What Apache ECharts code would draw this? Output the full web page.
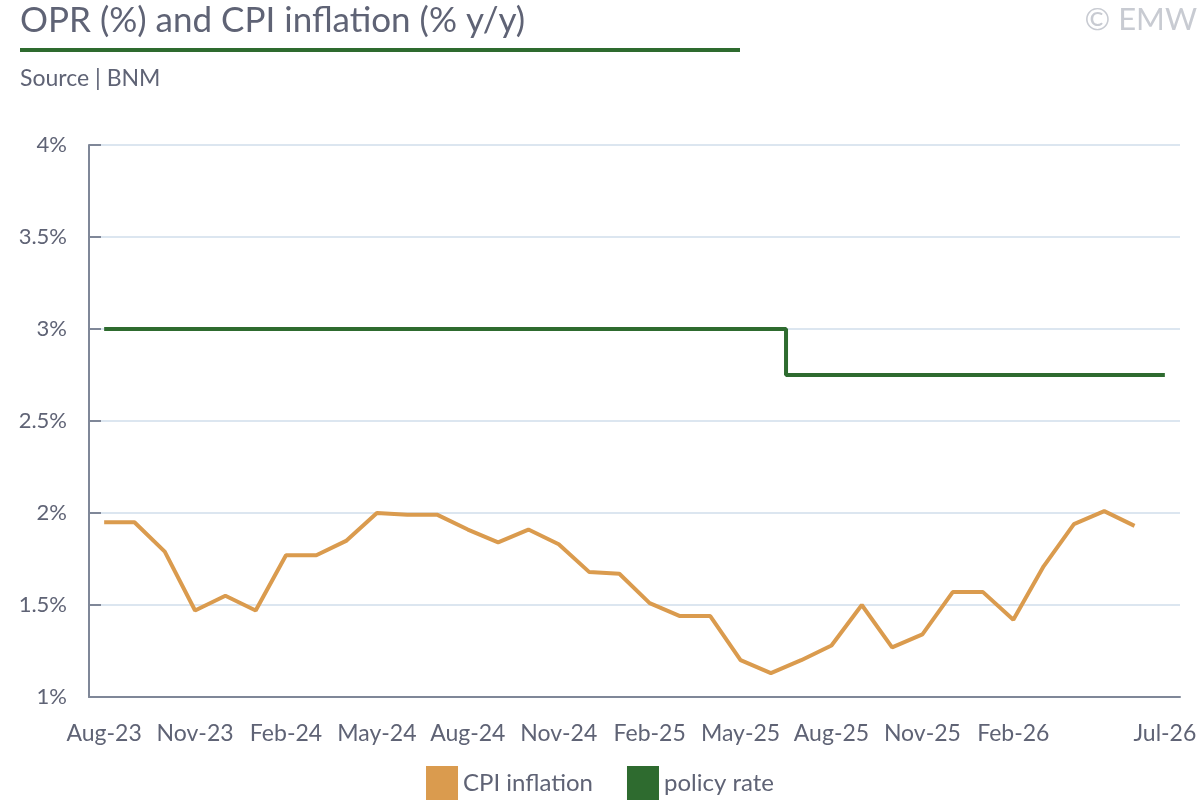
<!DOCTYPE html>
<html>
<head>
<meta charset="utf-8">
<script src="https://cdn.jsdelivr.net/npm/echarts@6/dist/echarts.min.js"></script>
<style>
html,body{margin:0;padding:0;background:#fff;}
#chart{width:1200px;height:800px;}
</style>
</head>
<body>
<div id="chart"></div>
<script>
const months = ['Aug-23','Sep-23','Oct-23','Nov-23','Dec-23','Jan-24','Feb-24','Mar-24','Apr-24','May-24','Jun-24','Jul-24',
  'Aug-24','Sep-24','Oct-24','Nov-24','Dec-24','Jan-25','Feb-25','Mar-25','Apr-25','May-25','Jun-25','Jul-25',
  'Aug-25','Sep-25','Oct-25','Nov-25','Dec-25','Jan-26','Feb-26','Mar-26','Apr-26','May-26','Jun-26','Jul-26'];
const cpiInflation = [1.95,1.95,1.79,1.47,1.55,1.47,1.77,1.77,1.85,2.00,1.99,1.99,
  1.91,1.84,1.91,1.83,1.68,1.67,1.51,1.44,1.44,1.20,1.13,1.20,
  1.28,1.50,1.27,1.34,1.57,1.57,1.42,1.71,1.94,2.01,1.93,null];
const policyRate = [3,3,3,3,3,3,3,3,3,3,3,3,
  3,3,3,3,3,3,3,3,3,3,3,2.75,
  2.75,2.75,2.75,2.75,2.75,2.75,2.75,2.75,2.75,2.75,2.75,2.75];
const yTicks = [1,1.5,2,2.5,3,3.5,4];

const FONT = 'Lato';
const TXT = '#5f6375';
const AXIS = '#7f8798';
const ORANGE = '#da9b4e';
const GREEN = '#2e6b2f';

const chart = echarts.init(document.getElementById('chart'));
chart.setOption({
  animation: false,
  textStyle: {fontFamily: FONT},
  graphic: [
    {type:'text', left:20, top:3, style:{text:'OPR (%) and CPI inflation (% y/y)', font:'35px Lato', fill:TXT}},
    {type:'rect', shape:{x:20, y:48, width:720, height:4}, style:{fill:GREEN}},
    {type:'text', left:20, top:67, style:{text:'Source | BNM', font:'23px Lato', fill:TXT}},
    {type:'text', right:3, top:4, style:{text:'© EMW', font:'31px Lato', fill:'#c8cbd2'}}
  ],
  grid: {left:89, right:20, top:145, bottom:103, containLabel:false},
  legend: {
    bottom: 0, left: 'center', padding: 0,
    itemWidth: 32, itemHeight: 34, itemGap: 34,
    icon: 'rect',
    textStyle: {fontFamily: FONT, fontSize: 24, color: TXT},
    data: ['CPI inflation','policy rate']
  },
  xAxis: {
    type: 'category',
    data: months,
    boundaryGap: true,
    axisLine: {lineStyle:{color:AXIS, width:2}},
    axisTick: {inside:true, length:12, interval:0, lineStyle:{color:AXIS, width:2}},
    axisLabel: {
      interval: function(i){ return (i % 3 === 0 && i !== 33) || i === months.length - 1; },
      color: TXT, fontSize: 23, margin: 25, fontFamily: FONT
    },
    splitLine: {show:false}
  },
  yAxis: {
    type: 'value',
    min: yTicks[0], max: yTicks[yTicks.length-1], interval: 0.5,
    axisLine: {show:true, lineStyle:{color:AXIS, width:2}},
    axisTick: {show:true, inside:true, length:12, lineStyle:{color:AXIS, width:2}},
    axisLabel: {color: TXT, fontSize: 22, margin: 22, fontFamily: FONT, formatter: v => v + '%'},
    splitLine: {lineStyle:{color:'#dce6f0', width:2}}
  },
  series: [
    {
      name: 'CPI inflation', type: 'line', data: cpiInflation,
      symbol: 'none', lineStyle: {color: ORANGE, width: 4}, itemStyle: {color: ORANGE}, z: 3
    },
    {
      name: 'policy rate', type: 'line', data: policyRate, step: 'middle',
      symbol: 'none', lineStyle: {color: GREEN, width: 4}, itemStyle: {color: GREEN}, z: 2
    }
  ]
});
</script>
</body>
</html>
